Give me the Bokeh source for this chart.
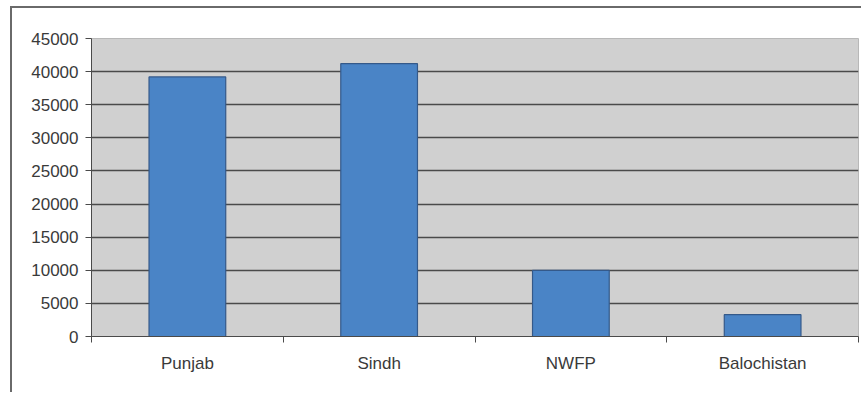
from bokeh.plotting import figure
from bokeh.models import FixedTicker, Range1d
from bokeh.embed import file_html
from bokeh.resources import INLINE

categories = ["Punjab", "Sindh", "NWFP", "Balochistan"]
values = [39200, 41200, 10000, 3300]
y_ticks = [0, 5000, 10000, 15000, 20000, 25000, 30000, 35000, 40000, 45000]

xs = [i + 0.5 for i in range(len(categories))]

p = figure(width=851, height=386, output_backend="svg", toolbar_location=None,
           x_range=Range1d(0, len(categories)), y_range=Range1d(0, 45000),
           min_border_left=79, min_border_right=5, min_border_top=30, min_border_bottom=58)
p.styles = {"margin-left": "10px", "margin-top": "6px",
            "border-top": "2px solid #6a6a6a", "border-left": "2px solid #6a6a6a"}

p.background_fill_color = "#d0d0d0"
p.border_fill_color = "white"
p.outline_line_color = "#b8b8b8"
p.outline_line_width = 1

p.vbar(x=xs, top=values, width=0.4, fill_color="#4a84c6", line_color="#34598a", line_width=1.2)

font = "Liberation Sans"
# y axis
p.yaxis.ticker = FixedTicker(ticks=y_ticks)
p.yaxis.major_tick_out = 6
p.yaxis.major_tick_in = 0
p.yaxis.minor_tick_out = 0
p.yaxis.axis_line_color = "#4a4a4a"
p.yaxis.major_tick_line_color = "#4a4a4a"
p.yaxis.major_label_text_font = font
p.yaxis.major_label_text_font_size = "17px"
p.yaxis.major_label_text_color = "#3a3a3a"
p.yaxis.major_label_standoff = 7

# x axis
p.xaxis.ticker = FixedTicker(ticks=xs, minor_ticks=list(range(len(categories) + 1)))
p.xaxis.major_label_overrides = {x: c for x, c in zip(xs, categories)}
p.xaxis.major_tick_out = 0
p.xaxis.major_tick_in = 0
p.xaxis.minor_tick_out = 6
p.xaxis.minor_tick_in = 0
p.xaxis.minor_tick_line_color = "#4a4a4a"
p.xaxis.axis_line_color = "#4a4a4a"
p.xaxis.major_label_text_font = font
p.xaxis.major_label_text_font_size = "17px"
p.xaxis.major_label_text_color = "#3a3a3a"
p.xaxis.major_label_standoff = 11

p.xgrid.grid_line_color = None
p.ygrid.grid_line_color = "#4a4a4a"
p.ygrid.grid_line_width = 1.5

open("out.html", "w").write(file_html(p, INLINE))
